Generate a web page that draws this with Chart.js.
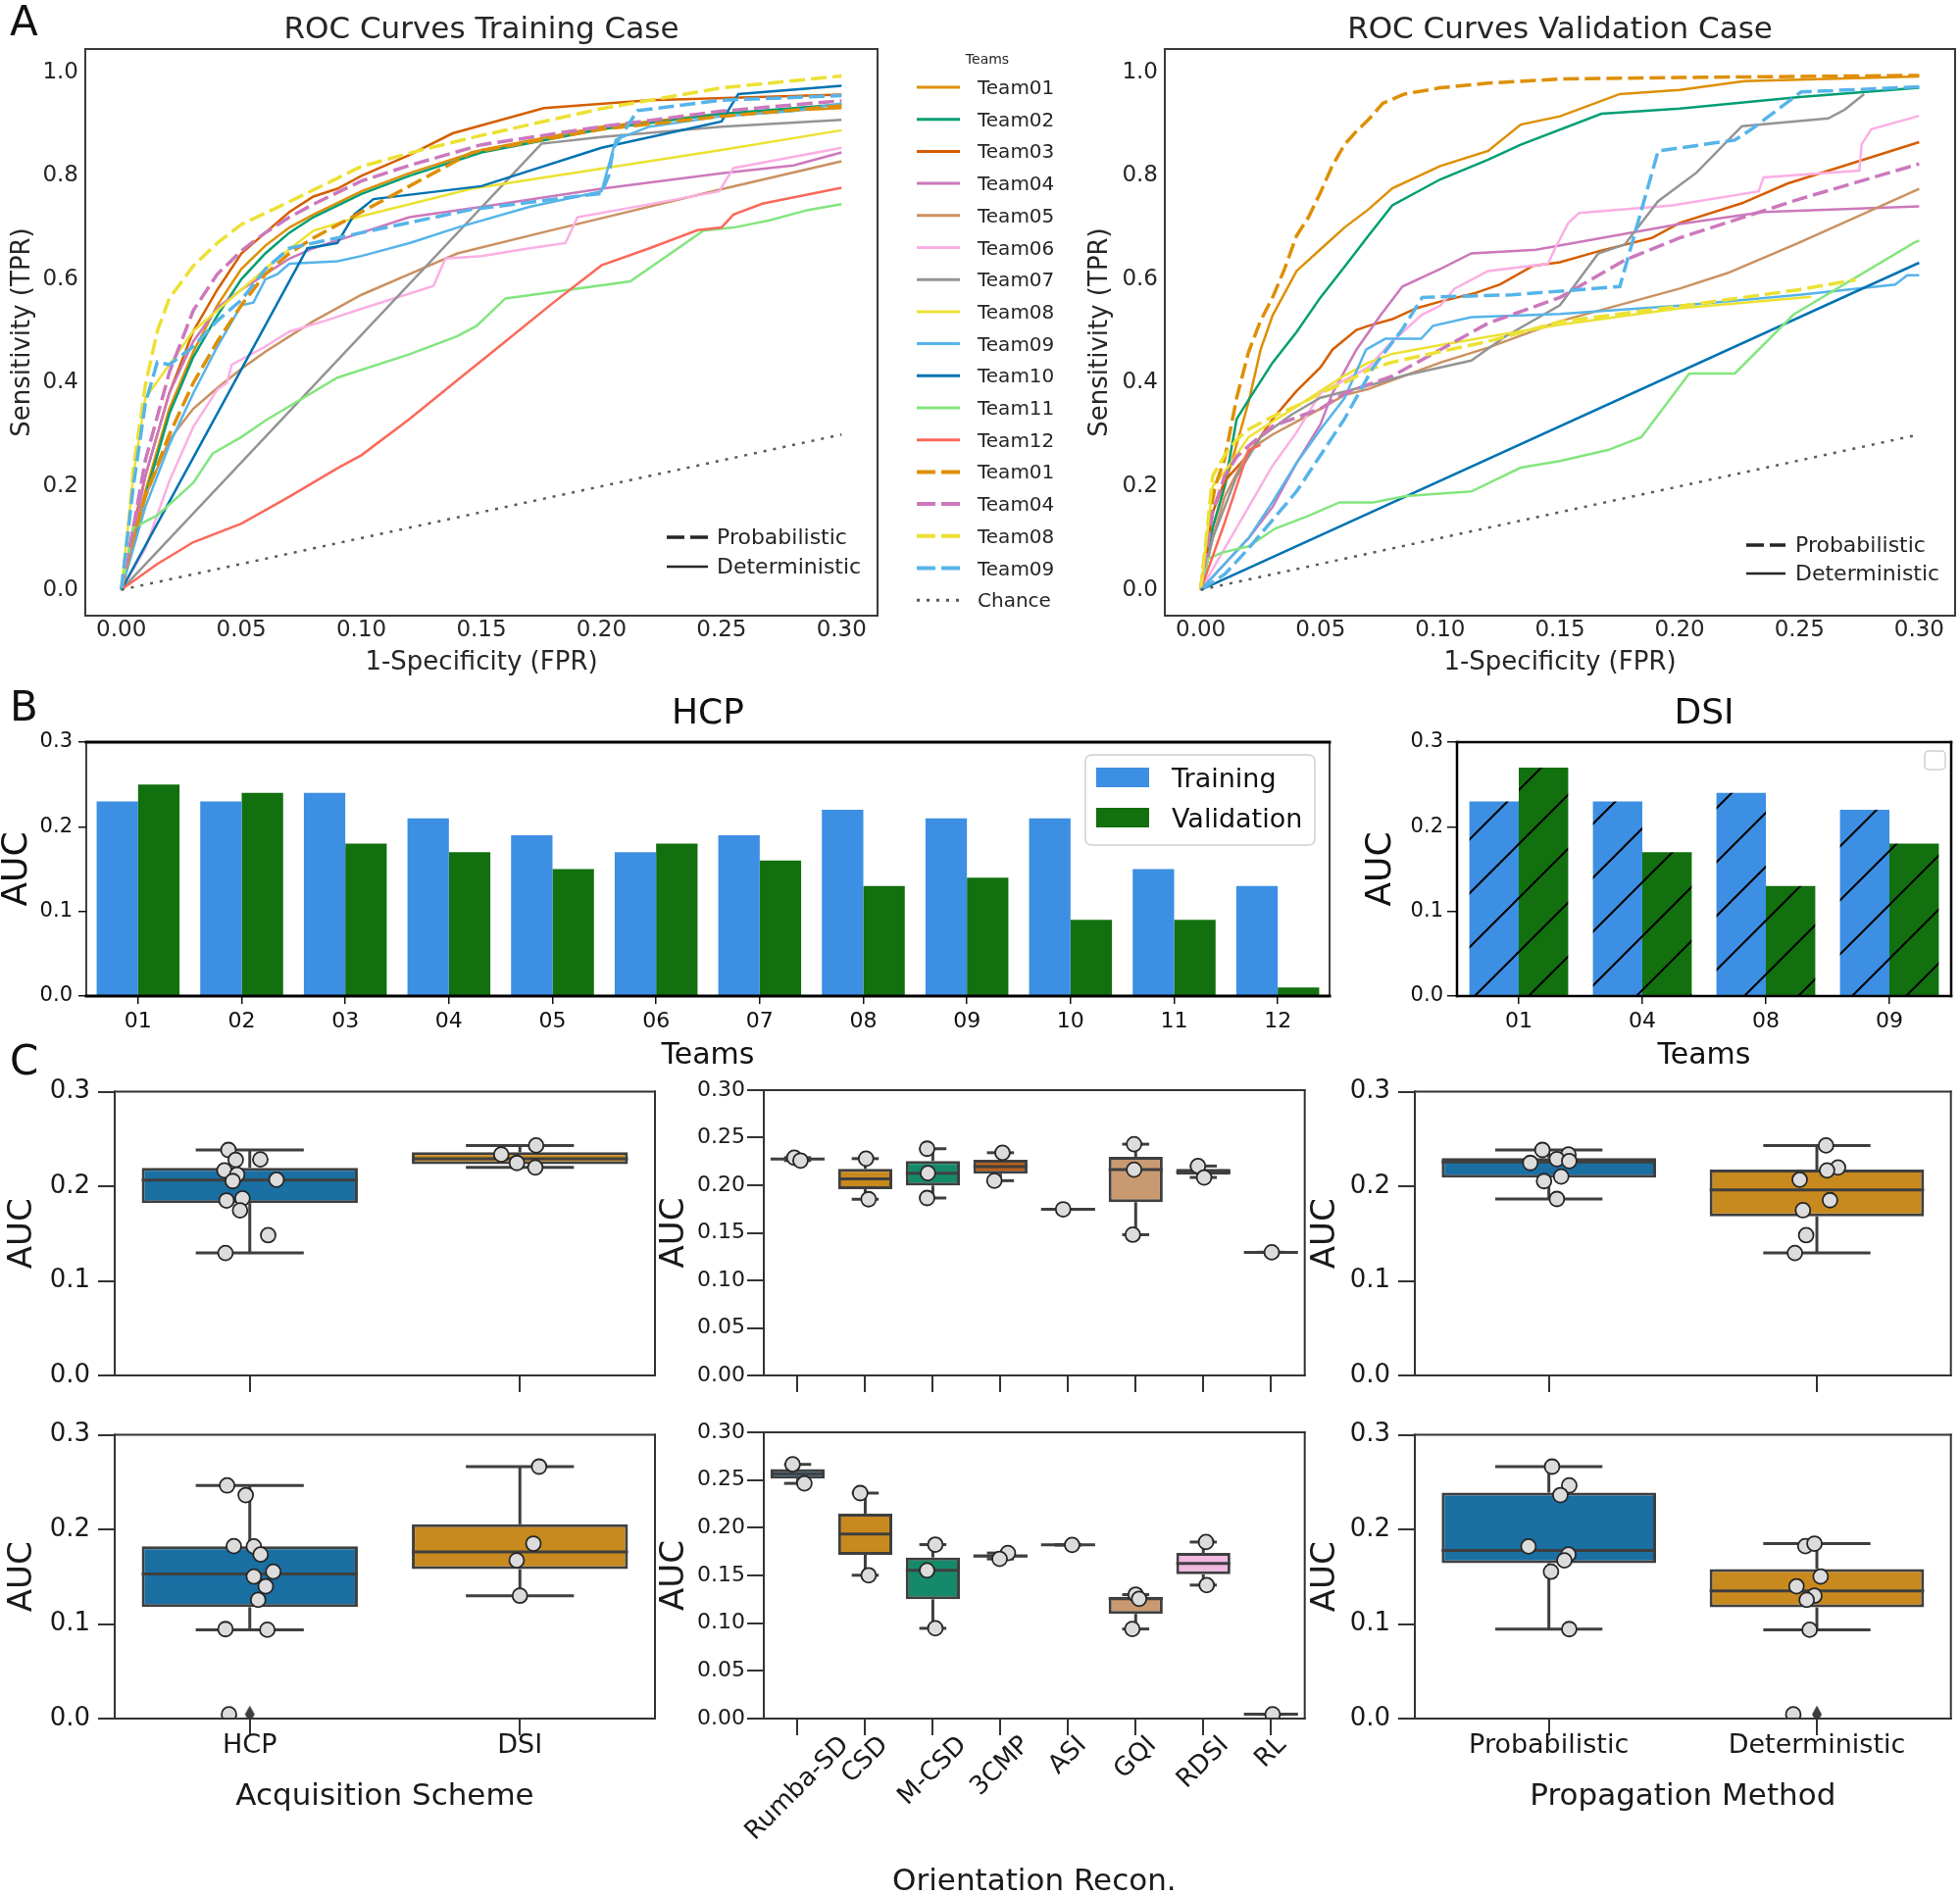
<!DOCTYPE html>
<html><head><meta charset="utf-8">
<script src="https://cdn.jsdelivr.net/npm/chart.js@4.4.1/dist/chart.umd.min.js"></script>
<style>
html,body{margin:0;padding:0;background:#fff;}
body{width:1999px;height:1935px;position:relative;overflow:hidden;font-family:'DejaVu Sans',sans-serif;color:#262626;}
canvas{position:absolute;}
.t{position:absolute;white-space:nowrap;}
#ov{position:absolute;left:0;top:0;pointer-events:none;}
</style></head><body>
<canvas id="rocTrain" width="905" height="700" style="left:0px;top:0px"></canvas>
<canvas id="rocVal" width="899" height="700" style="left:1100px;top:0px"></canvas>
<canvas id="hcp" width="1370" height="410" style="left:0px;top:700px"></canvas>
<canvas id="dsi" width="619" height="410" style="left:1380px;top:700px"></canvas>
<canvas id="acqTrain" width="680" height="350" style="left:0px;top:1090px"></canvas>
<canvas id="oriTrain" width="680" height="350" style="left:660px;top:1090px"></canvas>
<canvas id="propTrain" width="679" height="350" style="left:1320px;top:1090px"></canvas>
<canvas id="acqVal" width="680" height="495" style="left:0px;top:1440px"></canvas>
<canvas id="oriVal" width="680" height="495" style="left:660px;top:1440px"></canvas>
<canvas id="propVal" width="679" height="495" style="left:1320px;top:1440px"></canvas>
<svg id="ov" width="1999" height="1935"></svg>
<script>
// ---------------- Panel A : ROC curves ([FPR, TPR]) ----------------
const rocXTicks = [0, 0.05, 0.10, 0.15, 0.20, 0.25, 0.30];
const rocYTicks = [0, 0.2, 0.4, 0.6, 0.8, 1.0];
const teamNames = ['Team01','Team02','Team03','Team04','Team05','Team06','Team07','Team08','Team09','Team10','Team11','Team12'];
const teamColors = ['#DE8F05','#029E73','#D55E00','#CC78BC','#CA9161','#FBAFE4','#949494','#ECE133','#56B4E9','#0173B2','#84e57f','#fa695a'];
const probNames = ['Team01','Team04','Team08','Team09'];
const probColors = ['#DE8F05','#CC78BC','#ECE133','#56B4E9'];
const chanceLine = [[0,0],[0.30,0.30]];

const trainDet01 = [[0,0],[0.005,0.1],[0.01,0.19],[0.02,0.35],[0.03,0.46],[0.04,0.55],[0.05,0.62],[0.06,0.665],[0.07,0.70],[0.08,0.725],[0.10,0.77],[0.12,0.805],[0.15,0.85],[0.20,0.895],[0.25,0.92],[0.30,0.931]];
const trainDet02 = [[0,0],[0.005,0.09],[0.01,0.18],[0.02,0.34],[0.03,0.45],[0.04,0.53],[0.05,0.60],[0.06,0.65],[0.07,0.69],[0.08,0.72],[0.10,0.765],[0.12,0.80],[0.15,0.845],[0.20,0.89],[0.25,0.92],[0.30,0.938]];
const trainDet03 = [[0,0],[0.005,0.12],[0.01,0.22],[0.02,0.38],[0.03,0.50],[0.04,0.58],[0.05,0.65],[0.06,0.69],[0.07,0.73],[0.08,0.76],[0.09,0.775],[0.10,0.80],[0.12,0.84],[0.138,0.882],[0.176,0.931],[0.22,0.946],[0.30,0.957]];
const trainDet04 = [[0,0],[0.005,0.1],[0.01,0.22],[0.02,0.38],[0.03,0.48],[0.04,0.545],[0.05,0.58],[0.06,0.61],[0.07,0.64],[0.08,0.66],[0.10,0.69],[0.12,0.72],[0.15,0.74],[0.20,0.775],[0.25,0.805],[0.28,0.82],[0.30,0.845]];
const trainDet05 = [[0,0],[0.005,0.1],[0.01,0.18],[0.02,0.29],[0.03,0.35],[0.04,0.39],[0.05,0.427],[0.06,0.46],[0.08,0.519],[0.10,0.57],[0.12,0.61],[0.14,0.65],[0.175,0.69],[0.20,0.718],[0.25,0.774],[0.30,0.828]];
const trainDet06 = [[0,0],[0.01,0.08],[0.02,0.21],[0.03,0.315],[0.04,0.387],[0.044,0.40],[0.046,0.435],[0.06,0.47],[0.07,0.499],[0.085,0.52],[0.10,0.543],[0.13,0.587],[0.135,0.64],[0.15,0.645],[0.17,0.66],[0.185,0.67],[0.19,0.72],[0.22,0.745],[0.249,0.77],[0.255,0.815],[0.30,0.854]];
const trainDet07 = [[0,0],[0.175,0.862],[0.20,0.875],[0.25,0.895],[0.30,0.908]];
const trainDet08 = [[0,0],[0.005,0.22],[0.01,0.37],[0.02,0.435],[0.03,0.5],[0.05,0.58],[0.065,0.64],[0.08,0.694],[0.10,0.722],[0.146,0.775],[0.20,0.814],[0.25,0.85],[0.30,0.888]];
const trainDet09 = [[0,0],[0.005,0.08],[0.01,0.16],[0.02,0.28],[0.03,0.38],[0.04,0.47],[0.05,0.55],[0.055,0.555],[0.06,0.60],[0.065,0.61],[0.07,0.63],[0.09,0.635],[0.10,0.645],[0.12,0.67],[0.14,0.70],[0.17,0.74],[0.20,0.77],[0.203,0.82],[0.206,0.87],[0.22,0.895],[0.25,0.915],[0.28,0.925],[0.30,0.94]];
const trainDet10 = [[0,0],[0.0775,0.66],[0.09,0.67],[0.097,0.725],[0.105,0.755],[0.15,0.78],[0.20,0.854],[0.25,0.905],[0.257,0.958],[0.30,0.974]];
const trainDet11 = [[0,0],[0.005,0.12],[0.015,0.144],[0.03,0.207],[0.038,0.263],[0.05,0.295],[0.06,0.327],[0.09,0.41],[0.12,0.455],[0.14,0.49],[0.148,0.51],[0.16,0.563],[0.212,0.596],[0.2425,0.694],[0.255,0.70],[0.27,0.714],[0.286,0.734],[0.30,0.745]];
const trainDet12 = [[0,0],[0.015,0.05],[0.03,0.092],[0.05,0.128],[0.07,0.18],[0.09,0.235],[0.10,0.26],[0.12,0.33],[0.14,0.405],[0.16,0.48],[0.18,0.555],[0.20,0.627],[0.22,0.66],[0.24,0.695],[0.25,0.70],[0.255,0.725],[0.267,0.746],[0.30,0.777]];
const trainProb01 = [[0,0],[0.005,0.1],[0.01,0.18],[0.02,0.30],[0.03,0.40],[0.04,0.48],[0.05,0.55],[0.06,0.61],[0.07,0.65],[0.08,0.68],[0.10,0.73],[0.12,0.78],[0.146,0.845],[0.20,0.89],[0.25,0.915],[0.30,0.935]];
const trainProb04 = [[0,0],[0.005,0.12],[0.01,0.25],[0.02,0.42],[0.03,0.54],[0.04,0.61],[0.05,0.655],[0.06,0.69],[0.07,0.72],[0.08,0.745],[0.10,0.79],[0.12,0.82],[0.15,0.86],[0.20,0.895],[0.25,0.925],[0.30,0.945]];
const trainProb08 = [[0,0],[0.003,0.12],[0.005,0.235],[0.008,0.33],[0.01,0.395],[0.015,0.50],[0.02,0.563],[0.03,0.626],[0.04,0.67],[0.05,0.706],[0.07,0.75],[0.10,0.818],[0.125,0.85],[0.15,0.878],[0.20,0.93],[0.25,0.97],[0.30,0.993]];
const trainProb09 = [[0,0],[0.005,0.2],[0.01,0.36],[0.015,0.44],[0.02,0.435],[0.03,0.47],[0.04,0.52],[0.05,0.56],[0.06,0.62],[0.07,0.66],[0.10,0.69],[0.146,0.735],[0.20,0.766],[0.203,0.80],[0.205,0.854],[0.21,0.89],[0.215,0.926],[0.25,0.946],[0.30,0.955]];

const valDet01 = [[0,0],[0.005,0.12],[0.01,0.2],[0.02,0.363],[0.025,0.464],[0.03,0.53],[0.04,0.616],[0.05,0.658],[0.06,0.70],[0.07,0.735],[0.08,0.776],[0.10,0.819],[0.12,0.848],[0.1336,0.899],[0.15,0.915],[0.175,0.958],[0.20,0.966],[0.227,0.983],[0.30,0.992]];
const valDet02 = [[0,0],[0.005,0.12],[0.01,0.2],[0.015,0.33],[0.02,0.367],[0.03,0.439],[0.04,0.498],[0.05,0.565],[0.06,0.624],[0.07,0.684],[0.08,0.743],[0.10,0.793],[0.12,0.831],[0.1336,0.86],[0.1673,0.92],[0.20,0.93],[0.25,0.952],[0.30,0.97]];
const valDet03 = [[0,0],[0.005,0.15],[0.01,0.21],[0.02,0.262],[0.03,0.33],[0.04,0.384],[0.05,0.43],[0.055,0.464],[0.065,0.502],[0.07,0.51],[0.08,0.523],[0.09,0.544],[0.10,0.557],[0.115,0.574],[0.125,0.59],[0.1387,0.626],[0.15,0.633],[0.166,0.654],[0.1885,0.68],[0.20,0.709],[0.226,0.747],[0.245,0.785],[0.30,0.865]];
const valDet04 = [[0,0],[0.01,0.05],[0.02,0.1],[0.03,0.16],[0.04,0.245],[0.05,0.32],[0.055,0.38],[0.065,0.464],[0.075,0.53],[0.0842,0.586],[0.10,0.62],[0.113,0.65],[0.14,0.657],[0.20,0.707],[0.235,0.73],[0.30,0.741]];
const valDet05 = [[0,0],[0.005,0.1],[0.01,0.18],[0.02,0.27],[0.03,0.30],[0.04,0.325],[0.05,0.35],[0.06,0.376],[0.07,0.388],[0.08,0.405],[0.10,0.439],[0.12,0.468],[0.15,0.519],[0.20,0.582],[0.22,0.612],[0.25,0.671],[0.30,0.775]];
const valDet06 = [[0,0],[0.01,0.08],[0.02,0.16],[0.03,0.24],[0.04,0.304],[0.05,0.38],[0.06,0.405],[0.07,0.43],[0.08,0.48],[0.0925,0.532],[0.10,0.549],[0.106,0.582],[0.12,0.616],[0.145,0.63],[0.148,0.66],[0.1535,0.709],[0.158,0.728],[0.197,0.743],[0.233,0.77],[0.235,0.797],[0.275,0.81],[0.276,0.861],[0.28,0.89],[0.30,0.916]];
const valDet07 = [[0,0],[0.005,0.1],[0.015,0.22],[0.025,0.295],[0.0377,0.338],[0.05,0.371],[0.072,0.397],[0.085,0.414],[0.113,0.443],[0.127,0.489],[0.15,0.55],[0.166,0.65],[0.177,0.667],[0.191,0.751],[0.207,0.806],[0.226,0.896],[0.262,0.911],[0.269,0.928],[0.277,0.958]];
const valDet08 = [[0,0],[0.005,0.2],[0.01,0.228],[0.02,0.295],[0.03,0.325],[0.04,0.354],[0.05,0.384],[0.06,0.414],[0.07,0.439],[0.08,0.456],[0.10,0.473],[0.12,0.489],[0.15,0.512],[0.20,0.544],[0.255,0.566]];
const valDet09 = [[0,0],[0.01,0.05],[0.02,0.10],[0.03,0.17],[0.04,0.245],[0.05,0.31],[0.06,0.37],[0.069,0.464],[0.077,0.485],[0.092,0.485],[0.097,0.51],[0.113,0.527],[0.15,0.533],[0.20,0.549],[0.25,0.57],[0.29,0.59],[0.295,0.608],[0.30,0.608]];
const valDet10 = [[0,0],[0.30,0.632]];
const valDet11 = [[0,0],[0.003,0.06],[0.009,0.072],[0.02,0.084],[0.031,0.118],[0.045,0.143],[0.058,0.169],[0.072,0.169],[0.0856,0.181],[0.113,0.19],[0.1336,0.236],[0.15,0.249],[0.17,0.27],[0.184,0.295],[0.204,0.418],[0.223,0.418],[0.2476,0.532],[0.298,0.671],[0.30,0.675]];
const valDet12 = [[0,0],[0.01,0.13],[0.02,0.27],[0.025,0.28]];
const valProb01 = [[0,0],[0.003,0.12],[0.006,0.2],[0.01,0.253],[0.015,0.371],[0.02,0.46],[0.025,0.52],[0.03,0.565],[0.035,0.62],[0.04,0.684],[0.045,0.72],[0.05,0.768],[0.055,0.82],[0.06,0.86],[0.065,0.886],[0.0705,0.911],[0.076,0.94],[0.085,0.958],[0.10,0.97],[0.12,0.979],[0.15,0.987],[0.20,0.99],[0.30,0.994]];
const valProb04 = [[0,0],[0.005,0.15],[0.01,0.22],[0.015,0.257],[0.02,0.278],[0.03,0.316],[0.05,0.35],[0.06,0.38],[0.08,0.413],[0.10,0.464],[0.12,0.515],[0.15,0.565],[0.177,0.637],[0.20,0.68],[0.25,0.755],[0.30,0.823]];
const valProb08 = [[0,0],[0.005,0.22],[0.01,0.26],[0.015,0.29],[0.02,0.31],[0.03,0.335],[0.04,0.355],[0.05,0.38],[0.06,0.40],[0.07,0.425],[0.08,0.44],[0.10,0.46],[0.12,0.48],[0.15,0.518],[0.20,0.548],[0.25,0.58],[0.2735,0.599]];
const valProb09 = [[0,0],[0.01,0.03],[0.02,0.08],[0.04,0.19],[0.06,0.33],[0.072,0.43],[0.084,0.502],[0.0925,0.565],[0.13,0.57],[0.175,0.586],[0.191,0.848],[0.223,0.869],[0.23,0.89],[0.2507,0.962],[0.30,0.972]];

// ---------------- Panel B : AUC bars ----------------
const hcpTeams = ['01','02','03','04','05','06','07','08','09','10','11','12'];
const hcpTraining = [0.23,0.23,0.24,0.21,0.19,0.17,0.19,0.22,0.21,0.21,0.15,0.13];
const hcpValidation = [0.25,0.24,0.18,0.17,0.15,0.18,0.16,0.13,0.14,0.09,0.09,0.01];
const dsiTeams = ['01','04','08','09'];
const dsiTraining = [0.23,0.23,0.24,0.22];
const dsiValidation = [0.27,0.17,0.13,0.18];
const aucTicks1 = [0, 0.1, 0.2, 0.3];
const aucTicks2 = [0, 0.05, 0.10, 0.15, 0.20, 0.25, 0.30];

// ---------------- Panel C : box plots  [whiskerLow, Q1, median, Q3, whiskerHigh] ----------------
const acqCats = ['HCP','DSI'];
const oriCats = ['Rumba-SD','CSD','M-CSD','3CMP','ASI','GQI','RDSI','RL'];
const propCats = ['Probabilistic','Deterministic'];

const acqTrainBox = [[0.1295,0.1822,0.2065,0.2195,0.2384],[0.2199,0.2235,0.2292,0.2360,0.2432]];
const acqTrainPts = [
  [[-0.079,0.2384],[-0.052,0.228],[0.039,0.2284],[-0.094,0.2168],[-0.047,0.2123],[-0.063,0.2055],[0.099,0.207],[-0.086,0.185],[-0.027,0.1873],[-0.036,0.1746],[0.068,0.1483],[-0.09,0.1295]],
  [[0.06,0.2432],[-0.069,0.2336],[-0.011,0.2247],[0.057,0.2199]]];
const acqTrainOut = [];

const oriTrainBox = [[0.226,0.2268,0.2275,0.2283,0.229],[0.1853,0.1960,0.2067,0.2173,0.228],[0.1866,0.1997,0.2127,0.2256,0.2384],[0.2048,0.2122,0.2195,0.2269,0.2342],
  [0.1747,0.1747,0.1747,0.1747,0.1747],[0.148,0.1822,0.2164,0.2298,0.2432],[0.2082,0.2112,0.2142,0.2172,0.2202],[0.1295,0.1295,0.1295,0.1295,0.1295]];
const oriTrainPts = [[[-0.049,0.229],[0.043,0.226]],[[0.012,0.228],[0.049,0.1853]],[[-0.085,0.2384],[-0.073,0.2127],[-0.085,0.1866]],[[0.03,0.2342],[-0.09,0.2048]],
  [[-0.073,0.1747]],[[-0.024,0.2432],[-0.024,0.2164],[-0.043,0.148]],[[-0.079,0.2202],[0.012,0.2082]],[[0.012,0.1295]]];
const oriTrainOut = [];

const propTrainBox = [[0.1866,0.2091,0.2257,0.2300,0.2384],[0.1295,0.1681,0.1962,0.2176,0.2432]];
const propTrainPts = [
  [[-0.024,0.2384],[0.073,0.2336],[0.03,0.2288],[0.076,0.2267],[-0.069,0.2247],[0.046,0.2103],[-0.018,0.2055],[0.03,0.1866]],
  [[0.034,0.2432],[0.079,0.2199],[0.038,0.2168],[-0.064,0.207],[0.049,0.1853],[-0.052,0.1747],[-0.04,0.1483],[-0.082,0.1295]]];
const propTrainOut = [];

const acqValBox = [[0.0939,0.1178,0.1528,0.1821,0.2465],[0.1299,0.1580,0.1762,0.2054,0.2664]];
const acqValPts = [
  [[-0.084,0.2465],[-0.015,0.2363],[-0.059,0.1823],[0.015,0.182],[0.04,0.1735],[0.087,0.1553],[0.015,0.1502],[0.059,0.1399],[0.031,0.1255],[-0.09,0.0946],[0.065,0.0939],[-0.077,0.0045]],
  [[0.071,0.2664],[0.05,0.185],[-0.012,0.1673],[0,0.1299]]];
const acqValOut = [[0,0.0045]];

const oriValBox = [[0.2465,0.2515,0.2565,0.2614,0.2664],[0.1502,0.1717,0.1933,0.2148,0.2363],[0.0946,0.125,0.1553,0.1688,0.1823],[0.1673,0.1689,0.1704,0.1720,0.1735],
  [0.182,0.182,0.182,0.182,0.182],[0.0939,0.1097,0.1255,0.1277,0.1299],[0.1399,0.1512,0.1625,0.1737,0.185],[0.0045,0.0045,0.0045,0.0045,0.0045]];
const oriValPts = [[[-0.074,0.2664],[0.1,0.2465]],[[-0.074,0.2363],[0.05,0.1502]],[[0.037,0.1823],[-0.086,0.1553],[0.037,0.0946]],[[0.11,0.1735],[-0.012,0.1673]],
  [[0.06,0.182]],[[0,0.1299],[0.05,0.1255],[-0.05,0.0939]],[[0.04,0.185],[0.05,0.1399]],[[0.025,0.0045]]];
const oriValOut = [];

const propValBox = [[0.0946,0.1643,0.1778,0.2389,0.2664],[0.0939,0.1176,0.1349,0.1582,0.185]];
const propValPts = [
  [[0.012,0.2664],[0.076,0.2465],[0.043,0.2363],[-0.076,0.182],[0.073,0.1735],[0.058,0.1673],[0.008,0.1553],[0.076,0.0946]],
  [[-0.043,0.1823],[-0.009,0.185],[0.014,0.1502],[-0.076,0.1399],[-0.009,0.1299],[-0.038,0.1255],[-0.027,0.0939],[-0.088,0.0045]]];
const propValOut = [[1,0.0045]];

const twoColors = ['#1a6fa3','#c88a1e'];
const oriColors = ['#1a6fa3','#c88a1e','#158a6a','#ba611b','#c283b6','#c99a72','#f1b8e0','#949494'];

// ================= drawing =================
const FONT = "'DejaVu Sans', 'Liberation Sans', sans-serif";
Chart.defaults.font.family = FONT;
Chart.defaults.color = '#262626';

const framePlugin = {
  id: 'frame',
  afterDatasetsDraw(chart, args, o) {
    const {ctx, chartArea: a} = chart;
    const w = o.width || 2;
    const side = (lw, x1, y1, x2, y2) => { ctx.lineWidth = lw; ctx.beginPath(); ctx.moveTo(x1, y1); ctx.lineTo(x2, y2); ctx.stroke(); };
    ctx.save();
    ctx.strokeStyle = o.color || '#333';
    ctx.lineCap = 'square';
    side(o.left || w, a.left, a.top, a.left, a.bottom);
    side(o.right || w, a.right, a.top, a.right, a.bottom);
    side(o.top || w, a.left, a.top, a.right, a.top);
    side(o.bottom || w, a.left, a.bottom, a.right, a.bottom);
    ctx.restore();
  }
};

const boxPlugin = {
  id: 'boxExtras',
  afterDatasetDraw(chart, args) {
    const ds = chart.data.datasets[args.index];
    if (!ds.boxStats) return;
    const xs = chart.scales.x, ys = chart.scales.y, ctx = chart.ctx;
    const line = (x1, y1, x2, y2) => { ctx.beginPath(); ctx.moveTo(x1, y1); ctx.lineTo(x2, y2); ctx.stroke(); };
    ctx.save();
    ctx.strokeStyle = '#3f3f3f';
    ctx.lineWidth = 3;
    ds.boxStats.forEach((s, i) => {
      const cx = xs.getPixelForValue(i);
      const hb = xs.getPixelForValue(i + 0.4) - cx;
      const hc = xs.getPixelForValue(i + 0.2) - cx;
      const [lo, q1, med, q3, hi] = s.map(v => ys.getPixelForValue(v));
      line(cx, q1, cx, lo);
      line(cx, q3, cx, hi);
      line(cx - hc, lo, cx + hc, lo);
      line(cx - hc, hi, cx + hc, hi);
      line(cx - hb, med, cx + hb, med);
    });
    ctx.restore();
  }
};

// rotated x labels: move each one so its rotated box is centred on the tick (matplotlib ha='center')
const centerRotatedLabels = {
  id: 'centerRotated',
  beforeDraw(chart) {
    const s = chart.scales.x;
    if (!s || !s.labelRotation || typeof s.getLabelItems !== 'function') return;
    const rad = s.labelRotation * Math.PI / 180;
    const ctx = chart.ctx;
    const items = s.getLabelItems(chart.chartArea);
    ctx.save();
    items.forEach(it => {
      ctx.font = it.font.string;
      const w = ctx.measureText(String(it.label)).width;
      const tr = it.options.translation;
      it.options.translation = [tr[0] + w * Math.cos(rad) / 2, tr[1]];
    });
    ctx.restore();
  }
};

function setTicks(arr) { return s => { s.ticks = arr.map(v => ({value: v})); }; }

// ---- ROC charts ----
function rocDatasets(det, prob) {
  const ds = [];
  det.forEach((c, i) => ds.push({label: teamNames[i], data: c, borderColor: teamColors[i], borderWidth: 2.5}));
  prob.forEach((c, i) => ds.push({label: probNames[i], data: c, borderColor: probColors[i], borderWidth: 3.5, borderDash: [16, 6]}));
  ds.push({label: 'Chance', data: chanceLine, borderColor: '#5a5a5a', borderWidth: 2.5, borderDash: [3, 7]});
  ds.forEach((d, k) => { d.order = -k; d.showLine = true; d.pointRadius = 0; d.fill = false; d.tension = 0; });
  return ds;
}
function rocChart(id, title, det, prob, yWidth, padRight, yTitlePad) {
  return new Chart(document.getElementById(id), {
    type: 'scatter',
    data: {datasets: rocDatasets(det, prob)},
    options: {
      responsive: false, animation: false, events: [],
      layout: {padding: {top: 12, right: padRight, left: 0, bottom: 0}},
      plugins: {
        legend: {display: false}, tooltip: {enabled: false},
        title: {display: true, text: title, fullSize: false, color: '#262626', font: {size: 31, weight: 'normal', lineHeight: 1.2}, padding: {top: 0, bottom: 0.8}},
        frame: {color: '#3a3a3a', width: 2}
      },
      scales: {
        x: {type: 'linear', min: -0.015, max: 0.315, afterBuildTicks: setTicks(rocXTicks), afterFit: s => { s.height = 72; },
            ticks: {callback: v => v.toFixed(2), font: {size: 23}, color: '#262626', padding: 1, maxRotation: 0, autoSkip: false},
            grid: {display: false, drawTicks: false}, border: {display: false},
            title: {display: true, text: '1-Specificity (FPR)', font: {size: 26, lineHeight: 1}, color: '#262626', padding: {top: 0, bottom: 11}}},
        y: {type: 'linear', min: -0.05, max: 1.045, afterBuildTicks: setTicks(rocYTicks), afterFit: s => { s.width = yWidth; },
            ticks: {callback: v => v.toFixed(1), font: {size: 23}, color: '#262626', padding: 7, autoSkip: false},
            grid: {display: false, drawTicks: false}, border: {display: false},
            title: {display: true, text: 'Sensitivity (TPR)', font: {size: 26, lineHeight: 1}, color: '#262626', padding: {top: yTitlePad, bottom: 0}}}
      }
    },
    plugins: [framePlugin]
  });
}
rocChart('rocTrain', 'ROC Curves Training Case',
  [trainDet01,trainDet02,trainDet03,trainDet04,trainDet05,trainDet06,trainDet07,trainDet08,trainDet09,trainDet10,trainDet11,trainDet12],
  [trainProb01,trainProb04,trainProb08,trainProb09], 87, 10, 10);
rocChart('rocVal', 'ROC Curves Validation Case',
  [valDet01,valDet02,valDet03,valDet04,valDet05,valDet06,valDet07,valDet08,valDet09,valDet10,valDet11,valDet12],
  [valProb01,valProb04,valProb08,valProb09], 88, 5, 9);

// ---- Panel B ----
const BLUE = '#3c8fe2', GREEN = '#12700f';
function hatch(color) {
  const s = 55, c = document.createElement('canvas'); c.width = s; c.height = s;
  const g = c.getContext('2d');
  g.fillStyle = color; g.fillRect(0, 0, s, s);
  g.strokeStyle = '#000'; g.lineWidth = 2;
  g.beginPath();
  g.moveTo(-3, s + 3); g.lineTo(s + 3, -3);
  g.moveTo(-3, 3); g.lineTo(3, -3);
  g.moveTo(s - 3, s + 3); g.lineTo(s + 3, s - 3);
  g.stroke();
  return g.createPattern(c, 'repeat');
}
function barChart(id, title, cats, tr, va, hatched, yWidth, padRight, yTitlePad, frameOpts, yTickLen, yTickPad) {
  return new Chart(document.getElementById(id), {
    type: 'bar',
    data: {labels: cats, datasets: [
      {label: 'Training', data: tr, backgroundColor: hatched ? hatch(BLUE) : BLUE},
      {label: 'Validation', data: va, backgroundColor: hatched ? hatch(GREEN) : GREEN}]},
    options: {
      responsive: false, animation: false, events: [],
      datasets: {bar: {categoryPercentage: 0.8, barPercentage: 1.0}},
      layout: {padding: {top: 7.4, right: padRight, left: 0, bottom: 0}},
      plugins: {
        legend: {display: false}, tooltip: {enabled: false},
        title: {display: true, text: title, fullSize: false, color: '#111', font: {size: 36, weight: 'normal', lineHeight: 1.2}, padding: {top: 0, bottom: 6.4}},
        frame: frameOpts
      },
      scales: {
        x: {afterFit: s => { s.height = 94; },
            ticks: {font: {size: 22}, color: '#111', padding: 5, maxRotation: 0, autoSkip: false},
            grid: {display: true, drawOnChartArea: false, drawTicks: true, tickLength: 8, offset: false, color: '#111', lineWidth: 1.5},
            border: {display: false},
            title: {display: true, text: 'Teams', font: {size: 30, lineHeight: 1}, color: '#111', padding: {top: 0, bottom: 18}}},
        y: {type: 'linear', min: 0, max: 0.3, afterBuildTicks: setTicks(aucTicks1), afterFit: s => { s.width = yWidth; },
            ticks: {callback: v => v.toFixed(1), font: {size: 21}, color: '#111', padding: yTickPad, autoSkip: false},
            grid: {display: true, drawOnChartArea: false, drawTicks: true, tickLength: yTickLen, color: '#111', lineWidth: 1.5},
            border: {display: false},
            title: {display: true, text: 'AUC', font: {size: 36, lineHeight: 1}, color: '#111', padding: {top: yTitlePad, bottom: 0}}}
      }
    },
    plugins: [framePlugin]
  });
}
barChart('hcp', 'HCP', hcpTeams, hcpTraining, hcpValidation, false, 88, 14, 0, {color: '#000', width: 1.5, top: 3, bottom: 3}, 8, 6);
barChart('dsi', 'DSI', dsiTeams, dsiTraining, dsiValidation, true, 106, 9, 11, {color: '#000', width: 2.5}, 10, 4);

// ---- Panel C ----
const diamond = (() => {
  const c = document.createElement('canvas'); c.width = 12; c.height = 18;
  const g = c.getContext('2d'); g.fillStyle = '#3d3d3d';
  g.beginPath(); g.moveTo(6, 0); g.lineTo(11, 9); g.lineTo(6, 18); g.lineTo(1, 9); g.closePath(); g.fill();
  return c;
})();

function boxChart(id, cats, stats, pts, outl, colors, o) {
  const n = cats.length;
  const datasets = [
    {type: 'scatter', data: pts.flatMap((arr, i) => arr.map(([j, v]) => ({x: i + j, y: v}))),
     pointRadius: 7.5, pointHoverRadius: 7.5, pointBackgroundColor: '#dcdcdc', pointBorderColor: '#262626', pointBorderWidth: 1.8, order: 1},
    {type: 'bar', data: stats.map((s, i) => ({x: i, y: [s[1], s[3]]})), backgroundColor: colors, borderColor: '#3f3f3f',
     borderWidth: 3, borderSkipped: false, categoryPercentage: 1, barPercentage: 0.8, order: 2, boxStats: stats}
  ];
  if (outl.length) datasets.push({type: 'scatter', data: outl.map(([i, v]) => ({x: i, y: v})), pointStyle: diamond, pointRadius: 6, order: 0});
  return new Chart(document.getElementById(id), {
    type: 'scatter',
    data: {datasets},
    options: {
      responsive: false, animation: false, events: [],
      layout: {padding: {top: o.padTop, right: o.padRight, left: 0, bottom: 0}},
      plugins: {legend: {display: false}, tooltip: {enabled: false}, frame: {color: '#333', width: 2}},
      scales: {
        x: {type: 'linear', min: -0.5, max: n - 0.5, offset: false, afterBuildTicks: setTicks(cats.map((c, i) => i)), afterFit: s => { s.height = o.xHeight; },
            ticks: {display: o.xLabels, callback: v => cats[v], font: {size: o.xFont}, color: '#1a1a1a', padding: -5,
                    minRotation: o.rot, maxRotation: o.rot, autoSkip: false},
            grid: {display: true, drawOnChartArea: false, drawTicks: true, tickLength: 17, offset: false, color: '#333', lineWidth: 2},
            border: {display: false},
            title: {display: !!o.xTitle, text: o.xTitle || '', font: {size: 31, lineHeight: 1}, color: '#1a1a1a', padding: {top: 0, bottom: o.xTitlePad || 0}}},
        y: {type: 'linear', min: 0, max: 0.3, afterBuildTicks: setTicks(o.yTicks), afterFit: s => { s.width = o.yWidth; },
            ticks: {callback: v => v.toFixed(o.dec), font: {size: o.yFont}, color: '#1a1a1a', padding: o.yTickPad, autoSkip: false},
            grid: {display: true, drawOnChartArea: false, drawTicks: true, tickLength: 17, offset: false, color: '#333', lineWidth: 2},
            border: {display: false},
            title: {display: true, text: 'AUC', font: {size: 34, lineHeight: 1}, color: '#1a1a1a', padding: {top: o.yTitlePad, bottom: 0}}}
      }
    },
    plugins: [framePlugin, boxPlugin, centerRotatedLabels]
  });
}
const row1 = {padTop: 22, xHeight: 37, xLabels: false, rot: 0, xFont: 27};
const row2 = {padTop: 21, xHeight: 182, xLabels: true, xFont: 27};
const colA = {yWidth: 117, padRight: 12, yTitlePad: 6, yTicks: aucTicks1, dec: 1, yFont: 26, yTickPad: 8};
const colB = {yWidth: 119, padRight: 8, yTitlePad: 11, yTicks: aucTicks2, dec: 2, yFont: 22, yTickPad: 2};
const colC = {yWidth: 123, padRight: 6, yTitlePad: 15, yTicks: aucTicks1, dec: 1, yFont: 26, yTickPad: 8};

boxChart('acqTrain', acqCats, acqTrainBox, acqTrainPts, acqTrainOut, twoColors, {...row1, ...colA});
boxChart('oriTrain', oriCats, oriTrainBox, oriTrainPts, oriTrainOut, oriColors, {...row1, ...colB});
boxChart('propTrain', propCats, propTrainBox, propTrainPts, propTrainOut, twoColors, {...row1, ...colC});
boxChart('acqVal', acqCats, acqValBox, acqValPts, acqValOut, twoColors, {...row2, ...colA, rot: 0, xTitle: 'Acquisition Scheme', xTitlePad: 87});
boxChart('oriVal', oriCats, oriValBox, oriValPts, oriValOut, oriColors, {...row2, ...colB, rot: 45, xFont: 26, xTitle: 'Orientation Recon.', xTitlePad: 0});
boxChart('propVal', propCats, propValBox, propValPts, propValOut, twoColors, {...row2, ...colC, rot: 0, xTitle: 'Propagation Method', xTitlePad: 87});

// ---------------- text & legends (HTML / SVG) ----------------
function addText(txt, x, y, size, opt = {}) {
  const d = document.createElement('div');
  d.className = 't'; d.textContent = txt;
  d.style.fontSize = size + 'px'; d.style.lineHeight = size + 'px'; d.style.height = size + 'px';
  d.style.top = (y - size / 2) + 'px';
  d.style.color = opt.color || '#262626';
  if (opt.center) { d.style.left = (x - 300) + 'px'; d.style.width = '600px'; d.style.textAlign = 'center'; }
  else d.style.left = x + 'px';
  document.body.appendChild(d);
}
const svg = document.getElementById('ov');
function svgEl(tag, attrs) {
  const e = document.createElementNS('http://www.w3.org/2000/svg', tag);
  for (const k in attrs) e.setAttribute(k, attrs[k]);
  svg.appendChild(e); return e;
}
function sample(x1, x2, y, color, width, dash) {
  svgEl('line', {x1, x2, y1: y, y2: y, stroke: color, 'stroke-width': width, 'stroke-dasharray': dash || 'none'});
}

addText('A', 10, 22, 42, {color: '#111'});
addText('B', 10, 721, 42, {color: '#111'});
addText('C', 10, 1082, 42, {color: '#111'});

// Teams legend between the ROC plots
addText('Teams', 1007, 60, 14, {center: true});
const legendEntries = [
  ...teamNames.map((n, i) => ({name: n, color: teamColors[i], width: 3, dash: null})),
  ...probNames.map((n, i) => ({name: n, color: probColors[i], width: 4, dash: '19 6'})),
  {name: 'Chance', color: '#5a5a5a', width: 3, dash: '3 7'}];
legendEntries.forEach((e, i) => {
  const y = 89 + i * 32.7;
  sample(935, 979, y, e.color, e.width, e.dash);
  addText(e.name, 997, y, 20);
});
// line-style legends inside the ROC plots
const styleLegend = [{name: 'Probabilistic', dash: '18 6', width: 3.5}, {name: 'Deterministic', dash: null, width: 2.5}];
styleLegend.forEach((e, i) => {
  const yT = 548 + i * 30, yV = 556 + i * 29;
  sample(680, 722, yT, '#262626', e.width, e.dash); addText(e.name, 731, yT, 22);
  sample(1781, 1821, yV, '#262626', e.width, e.dash); addText(e.name, 1831, yV, 22);
});
// HCP legend
svgEl('rect', {x: 1107, y: 770, width: 234, height: 92, rx: 6, fill: '#fff', stroke: '#d0d0d0', 'stroke-width': 1.5});
[['Training', BLUE], ['Validation', GREEN]].forEach(([n, c], i) => {
  const y = 793 + i * 41;
  svgEl('rect', {x: 1118, y: y - 10, width: 54, height: 20, fill: c});
  addText(n, 1195, y, 27, {color: '#111'});
});
// empty DSI legend frame
svgEl('rect', {x: 1963, y: 766, width: 21, height: 19, rx: 4, fill: '#fff', stroke: '#cfcfcf', 'stroke-width': 1.5});
</script>
</body></html>
